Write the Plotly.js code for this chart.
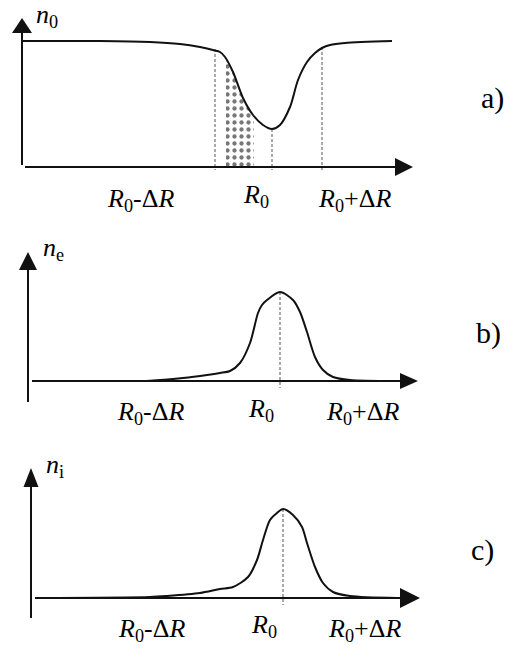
<!DOCTYPE html>
<html>
<head>
<meta charset="utf-8">
<script src="https://cdn.plot.ly/plotly-3.0.1.min.js"></script>
<style>html,body{margin:0;padding:0;background:#fff;}#chart{width:509px;height:648px;}</style>
</head>
<body>
<div id="chart"></div>
<script>
// ---- data (arbitrary units) ----
// panel a) neutral density n0 vs radius
const rA  = [0, 3.8, 7.8, 12.8, 15.8, 17.8, 19.1, 19.8, 20.3, 21.1, 22.1, 23.1, 24.1, 25.0, 25.8, 26.8, 27.6, 28.5, 29.3, 30.0, 30.8, 32.3, 37.0];
const n0  = [12.6, 12.6, 12.6, 12.5, 12.3, 12.0, 11.7, 11.5, 11.0, 9.5, 6.9, 5.2, 4.2, 3.8, 4.2, 6.0, 8.7, 10.5, 11.4, 11.9, 12.2, 12.4, 12.6];
// shaded (dotted) region under the n0 curve
const shadeR = [20.4, 20.4, 21.1, 22.1, 23.2, 23.2];
const shadeN = [0, 10.8, 9.5, 6.9, 5.1, 0];
// dashed guide lines in panel a)
const guideAr   = [19.3, 25.0, 30.0];
const guideAtop = [11.8, 3.8, 12.0];

// panel b) electron density ne
const rB = [0.4, 7.2, 12.2, 15.5, 17.9, 19.2, 20.2, 21.2, 22.2, 23.0, 23.4, 23.9, 25.2, 26.5, 27.2, 27.9, 28.7, 29.5, 30.5, 32.2, 36.7];
const ne = [0, 0, 0.03, 0.3, 0.6, 0.8, 1.0, 1.8, 3.8, 6.8, 7.6, 8.1, 8.9, 8.1, 6.9, 4.9, 2.4, 1.1, 0.4, 0.1, 0];
const peakB = 25.2, peakBtop = 8.9;

// panel c) ion density ni
const rC = [0.4, 11.9, 13.6, 16.9, 18.9, 20.2, 21.7, 22.6, 23.2, 23.9, 24.6, 25.2, 26.2, 27.1, 27.6, 28.4, 29.2, 30.2, 31.9, 36.6];
const ni = [0, 0.1, 0.2, 0.5, 0.9, 1.1, 2.1, 3.8, 5.8, 7.8, 8.5, 8.9, 8.3, 7.1, 5.5, 3.1, 1.5, 0.6, 0.2, 0];
const peakC = 25.2, peakCtop = 8.9;

// text
const tickLabels = ['<i>R</i><sub>0</sub>-Δ<i>R</i>', '<i>R</i><sub>0</sub>', '<i>R</i><sub>0</sub>+Δ<i>R</i>'];
const yLabels = ['<i>n</i><sub>0</sub>', '<i>n</i><sub>e</sub>', '<i>n</i><sub>i</sub>'];
const panelTags = ['a)', 'b)', 'c)'];

// ---- drawing ----
const W = 509, H = 648;
const FONT = 'Liberation Serif';
const curveStyle = {color: '#111', width: 2, shape: 'spline', smoothing: 0.8};
const dashStyle = {color: '#555', width: 1, dash: '3px,2px'};

function dashTrace(xs, tops, bottom, xa, ya) {
  const x = [], y = [];
  xs.forEach((v, i) => { x.push(v, v, null); y.push(tops[i], bottom, null); });
  return {x, y, xaxis: xa, yaxis: ya, mode: 'lines', line: dashStyle, hoverinfo: 'skip'};
}

const traces = [
  {x: shadeR, y: shadeN, xaxis: 'x', yaxis: 'y', mode: 'lines', fill: 'toself',
   line: {width: 0}, fillcolor: 'rgba(0,0,0,0)',
   fillpattern: {shape: '.', fgcolor: '#777', bgcolor: '#fff', size: 7, solidity: 0.3}, hoverinfo: 'skip'},
  dashTrace(guideAr, guideAtop, -0.3, 'x', 'y'),
  {x: rA, y: n0, xaxis: 'x', yaxis: 'y', mode: 'lines', line: curveStyle},
  dashTrace([peakB], [peakBtop], -0.7, 'x2', 'y2'),
  {x: rB, y: ne, xaxis: 'x2', yaxis: 'y2', mode: 'lines', line: curveStyle},
  dashTrace([peakC], [peakCtop], -0.7, 'x3', 'y3'),
  {x: rC, y: ni, xaxis: 'x3', yaxis: 'y3', mode: 'lines', line: curveStyle}
];

function axisShapes(xr, yr, v, h) {
  const ln = {color: '#111', width: 2};
  return [
    {type: 'line', xref: xr, yref: yr, x0: v.x, x1: v.x, y0: v.y0, y1: v.y1, line: ln},
    {type: 'path', xref: xr, yref: yr, fillcolor: '#111', line: {width: 0},
     path: `M ${v.x - v.half},${v.y1} L ${v.x},${v.apex} L ${v.x + v.half},${v.y1} Z`},
    {type: 'line', xref: xr, yref: yr, x0: h.x0, x1: h.x1, y0: h.y, y1: h.y, line: ln},
    {type: 'path', xref: xr, yref: yr, fillcolor: '#111', line: {width: 0},
     path: `M ${h.x1},${h.y - h.half} L ${h.tip},${h.y} L ${h.x1},${h.y + h.half} Z`}
  ];
}

const shapes = [].concat(
  axisShapes('x', 'y',  {x: 0, y0: 0.2, y1: 13.4, apex: 14.9, half: 1.0}, {y: 0, x0: 0.3, x1: 37.3, tip: 39.1, half: 0.9}),
  axisShapes('x2', 'y2', {x: 0, y0: -2.1, y1: 11.1, apex: 12.9, half: 0.9}, {y: 0, x0: 0.4, x1: 37.2, tip: 39.0, half: 0.8}),
  axisShapes('x3', 'y3', {x: 0, y0: -2.0, y1: 11.1, apex: 13.0, half: 0.75}, {y: 0, x0: 0.4, x1: 36.9, tip: 38.9, half: 1.0})
);

function at(px, py, text, size, xanchor) {
  return {xref: 'paper', yref: 'paper', x: px / W, y: 1 - py / H, text: text, showarrow: false,
          xanchor: xanchor || 'center', yanchor: 'middle', font: {family: FONT, size: size, color: '#000'}};
}
const labelPos = [
  [[140, 200], [256, 196], [354, 200]],
  [[150, 413], [261, 410], [362, 413]],
  [[151, 630], [264, 626], [364, 630]]
];
const yLabelPos = [[34, 16], [41, 249], [44, 466]];
const tagPos = [[492, 98], [488, 333], [482, 550]];
const annotations = [];
labelPos.forEach((row) => row.forEach((p, i) => annotations.push(at(p[0], p[1], tickLabels[i], 26))));
yLabels.forEach((t, i) => annotations.push(at(yLabelPos[i][0], yLabelPos[i][1], t, 26, 'left')));
panelTags.forEach((t, i) => annotations.push(at(tagPos[i][0], tagPos[i][1], t, 30)));

const hidden = {visible: false, fixedrange: true};
const layout = {
  width: W, height: H, margin: {l: 0, r: 0, t: 0, b: 0},
  paper_bgcolor: '#fff', plot_bgcolor: 'rgba(0,0,0,0)', showlegend: false,
  font: {family: FONT, color: '#000'},
  xaxis:  Object.assign({domain: [0, 1], range: [-2.2, 48.7], anchor: 'y'}, hidden),
  yaxis:  Object.assign({domain: [1 - 215 / H, 1], range: [-4.8, 16.7], anchor: 'x'}, hidden),
  xaxis2: Object.assign({domain: [0, 1], range: [-2.8, 48.1], anchor: 'y2'}, hidden),
  yaxis2: Object.assign({domain: [1 - 430 / H, 1 - 215 / H], range: [-4.9, 16.6], anchor: 'x2'}, hidden),
  xaxis3: Object.assign({domain: [0, 1], range: [-3.1, 47.8], anchor: 'y3'}, hidden),
  yaxis3: Object.assign({domain: [0, 1 - 430 / H], range: [-5.0, 16.8], anchor: 'x3'}, hidden),
  shapes: shapes,
  annotations: annotations
};
Plotly.newPlot('chart', traces, layout, {staticPlot: true, displayModeBar: false});
</script>
</body>
</html>
